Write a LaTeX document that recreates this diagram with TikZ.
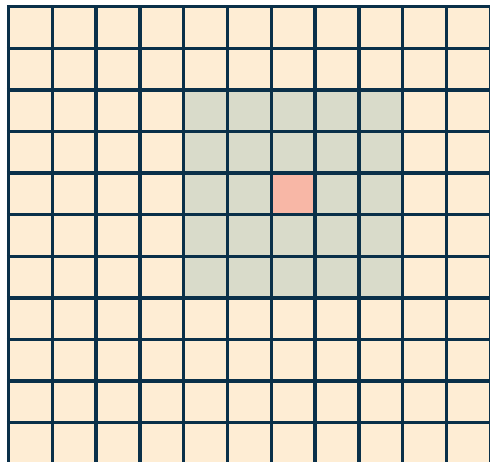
\documentclass[tikz,border=0pt]{standalone}
\definecolor{cream}{HTML}{FEEDD4}
\definecolor{sage}{HTML}{D9DBCA}
\definecolor{salmon}{HTML}{F8B7A6}
\definecolor{navy}{HTML}{0A3049}
\tikzset{gridline/.style={draw=navy,line width=3.3pt}}
\begin{document}
\begin{tikzpicture}[x=1pt,y=-1pt]
\useasboundingbox (0,0) rectangle (490,462);
\fill[white] (0,0) rectangle (490,462);
\clip (0,0) rectangle (490,462);
\def\xo{8.4}\def\dx{43.82}\def\yo{6.7}\def\dy{41.6}
\fill[cream] (\xo,\yo) rectangle (500,470);
\fill[sage] (\xo+4*\dx,\yo+2*\dy) rectangle (\xo+9*\dx,\yo+7*\dy);
\fill[salmon] (\xo+6*\dx,\yo+4*\dy) rectangle (\xo+7*\dx,\yo+5*\dy);
\foreach \i in {0,...,11} {
  \draw[gridline] (\xo+\i*\dx,\yo-1.65) -- (\xo+\i*\dx,470);
  \draw[gridline] (\xo-1.65,\yo+\i*\dy) -- (500,\yo+\i*\dy);
}
\end{tikzpicture}
\end{document}
